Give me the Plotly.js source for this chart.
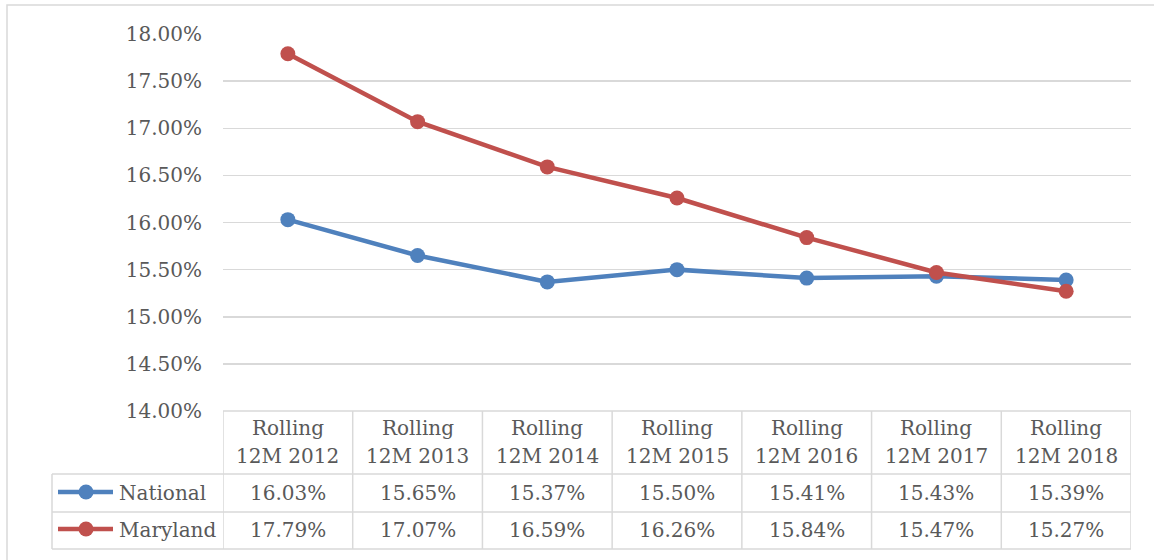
<!DOCTYPE html>
<html><head><meta charset="utf-8">
<script src="https://cdn.plot.ly/plotly-3.0.1.min.js"></script>
<style>html,body{margin:0;padding:0;background:#fff}</style>
</head><body><div id="chart" style="width:1154px;height:560px"></div>
<script>
// ---- data ----
const categories = ["Rolling 12M 2012", "Rolling 12M 2013", "Rolling 12M 2014", "Rolling 12M 2015", "Rolling 12M 2016", "Rolling 12M 2017", "Rolling 12M 2018"];
const headerLine1 = ["Rolling", "Rolling", "Rolling", "Rolling", "Rolling", "Rolling", "Rolling"];
const headerLine2 = ["12M 2012", "12M 2013", "12M 2014", "12M 2015", "12M 2016", "12M 2017", "12M 2018"];
const national = [16.03, 15.65, 15.37, 15.50, 15.41, 15.43, 15.39];
const maryland = [17.79, 17.07, 16.59, 16.26, 15.84, 15.47, 15.27];
const seriesNames = ["National", "Maryland"];
const yTickVals = [14.0, 14.5, 15.0, 15.5, 16.0, 16.5, 17.0, 17.5, 18.0];
const yTickText = ["14.00%", "14.50%", "15.00%", "15.50%", "16.00%", "16.50%", "17.00%", "17.50%", "18.00%"];

// ---- styling / layout ----
const W = 1154, H = 560;
const L = 223, R = 1131, T = 34, B = 411;
const FONT = "DejaVu Serif, Liberation Serif, serif";
const TXT = "#595959";
const GRID = "#D9D9D9";
const colors = ["#4F81BD", "#C0504D"];
const px2x = p => (p - L) / (R - L);
const px2y = p => (B - p) / (B - T);

const xIdx = categories.map((c, i) => i);
const seriesVals = [national, maryland];

const traces = seriesVals.map((vals, k) => ({
  x: xIdx, y: vals, type: "scatter", mode: "lines+markers", name: seriesNames[k],
  line: {color: colors[k], width: 4.5}, marker: {color: colors[k], size: 15},
  cliponaxis: false, hoverinfo: "skip"
}));

const shapes = [];
const annotations = [];
const line = (x0, y0, x1, y1, xref, color, width) => ({
  type: "line", xref: xref, yref: "paper", x0, y0, x1, y1,
  line: {color: color || GRID, width: width || 1.5}, layer: "below"
});

// outer chart border
shapes.push({type: "rect", xref: "paper", yref: "paper",
  x0: px2x(7), x1: px2x(W + 20), y0: px2y(5), y1: px2y(H + 20),
  line: {color: GRID, width: 1.5}, fillcolor: "rgba(0,0,0,0)", layer: "below"});

// table rows (pixel positions)
const rowTop = 411, rowHeadBot = 474, rowNatBot = 512, rowMdBot = 549, legendLeft = 52;
shapes.push(line(px2x(L), px2y(rowTop), px2x(R), px2y(rowTop), "paper"));
[rowHeadBot, rowNatBot, rowMdBot].forEach(p =>
  shapes.push(line(px2x(legendLeft), px2y(p), px2x(R), px2y(p), "paper")));
shapes.push(line(px2x(legendLeft), px2y(rowHeadBot), px2x(legendLeft), px2y(rowMdBot), "paper"));
for (let i = 0; i <= categories.length; i++) {
  shapes.push(line(i - 0.5, px2y(rowTop), i - 0.5, px2y(rowMdBot), "x"));
}

const annFont = {family: FONT, size: 20, color: TXT};
// header
categories.forEach((c, i) => {
  annotations.push({x: i, xref: "x", y: px2y(428), yref: "paper", text: headerLine1[i],
    showarrow: false, font: annFont, xanchor: "center", yanchor: "middle"});
  annotations.push({x: i, xref: "x", y: px2y(456), yref: "paper", text: headerLine2[i],
    showarrow: false, font: annFont, xanchor: "center", yanchor: "middle"});
});
// values
const rowCenters = [493, 530];
seriesVals.forEach((vals, k) => {
  vals.forEach((v, i) => {
    annotations.push({x: i, xref: "x", y: px2y(rowCenters[k]), yref: "paper",
      text: v.toFixed(2) + "%", showarrow: false, font: annFont, xanchor: "center", yanchor: "middle"});
  });
  // legend key
  const cy = px2y(rowCenters[k] - 1);
  shapes.push({type: "line", xref: "paper", yref: "paper", x0: px2x(58), x1: px2x(113), y0: cy, y1: cy,
    line: {color: colors[k], width: 4.5}});
  const r = 7.5, cx = 86, cyp = rowCenters[k] - 1;
  shapes.push({type: "circle", xref: "paper", yref: "paper",
    x0: px2x(cx - r), x1: px2x(cx + r), y0: px2y(cyp + r), y1: px2y(cyp - r),
    fillcolor: colors[k], line: {color: colors[k], width: 0}});
  annotations.push({x: px2x(117), xref: "paper", y: px2y(rowCenters[k]), yref: "paper",
    text: seriesNames[k], showarrow: false, font: annFont, xanchor: "left", yanchor: "middle"});
});

const layout = {
  width: W, height: H,
  margin: {l: L, r: W - R, t: T, b: H - B, pad: 0},
  paper_bgcolor: "#fff", plot_bgcolor: "#fff",
  showlegend: false,
  font: {family: FONT, size: 20, color: TXT},
  xaxis: {range: [-0.5, categories.length - 0.5], showgrid: false, zeroline: false,
    showticklabels: false, showline: false, ticks: "", fixedrange: true},
  yaxis: {range: [14, 18], tickvals: yTickVals, ticktext: yTickText,
    showgrid: true, gridcolor: GRID, gridwidth: 1.5, zeroline: false, showline: false,
    ticks: "", ticklabelstandoff: 20, tickfont: {family: FONT, size: 20, color: TXT}, fixedrange: true},
  shapes: shapes, annotations: annotations
};

Plotly.newPlot("chart", traces, layout, {displayModeBar: false, staticPlot: true});
</script>
</body></html>
